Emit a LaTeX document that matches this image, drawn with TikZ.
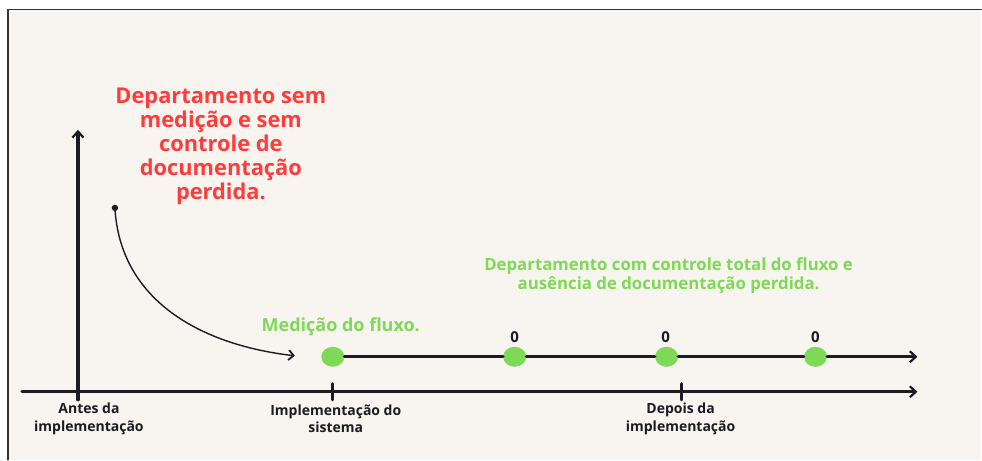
\documentclass[tikz,border=0pt]{standalone}
\usepackage{fontspec}
\setmainfont{Open Sans}
\usetikzlibrary{arrows.meta, shapes.geometric}

\definecolor{paper}{HTML}{F8F5F0}
\definecolor{frame}{HTML}{333333}
\definecolor{lost}{HTML}{FF3B3B}
\definecolor{flow}{HTML}{7ED957}
\definecolor{ink}{HTML}{1B1B24}

\begin{document}
\begin{tikzpicture}[x=1pt, y=-1pt, >={Straight Barb[length=6pt, width=11pt, line width=2.2pt]}, line cap=round,
  axis/.style={->, line width=3.2pt, ink},
  tick/.style={line width=3.2pt, ink},
  dot/.style={fill=flow, ellipse, inner sep=0pt, minimum width=23pt, minimum height=20pt},
  lbl/.style={align=center, text=ink, font=\fontsize{14}{17.5}\selectfont\bfseries},
  zero/.style={text=ink, font=\fontsize{15}{16}\selectfont\bfseries}]

\fill[white] (0,0) rectangle (982,460);
\fill[paper] (8,9) rectangle (982,460);
\draw[frame, line width=1.2pt] (8,460) -- (8,9.5) -- (982,9.5);

\coordinate (o)    at (78, 392);
\coordinate (xl)   at (22, 392);
\coordinate (xr)   at (918, 392);
\coordinate (ytop) at (78, 130);
\coordinate (ylow) at (78, 400);

\draw[axis] (xl) -- (xr);
\draw[axis] (ylow) -- (ytop);
\draw[tick] (333, 384) -- (333, 400);
\draw[tick] (682, 384) -- (682, 400);

\node (t1) at (89, 419)  [lbl] {Antes da\\implementação};
\node (t2) at (336, 419) [lbl] {Implementação do\\sistema};
\node (t3) at (681, 419) [lbl] {Depois da\\implementação};

\node (d1) at (333, 357) [dot] {};
\node (d2) at (515, 357) [dot] {};
\node (d3) at (667, 357) [dot] {};
\node (d4) at (816, 357) [dot] {};
\coordinate (fend) at (918, 357);

\draw[line width=3.2pt, ink] (d1) -- (d2) -- (d3) -- (d4);
\draw[axis] (d4) -- (fend);

\node (z2) at (515, 337) [zero] {0};
\node (z3) at (666, 337) [zero] {0};
\node (z4) at (816, 337) [zero] {0};

\node (med) at (341, 327) [text=flow, font=\fontsize{18}{20}\selectfont\bfseries] {Medição do fluxo.};
\node (after) at (669, 276) [text=flow, align=center, font=\fontsize{16.8}{18.5}\selectfont\bfseries]
  {Departamento com controle total do fluxo e\\ausência de documentação perdida.};
\node (before) at (221, 146) [text=lost, align=center, font=\fontsize{21.8}{24}\selectfont\bfseries]
  {Departamento sem\\medição e sem\\controle de\\documentação\\perdida.};

\fill[ink] (115, 208) circle (3.2pt) coordinate (start);
\coordinate (aim) at (295, 356);
\draw[->, line width=1.4pt, ink, >={Straight Barb[length=5pt, width=10pt, line width=1.8pt]}]
  (start) .. controls (120, 300) and (200, 345) .. (aim);

\end{tikzpicture}
\end{document}
